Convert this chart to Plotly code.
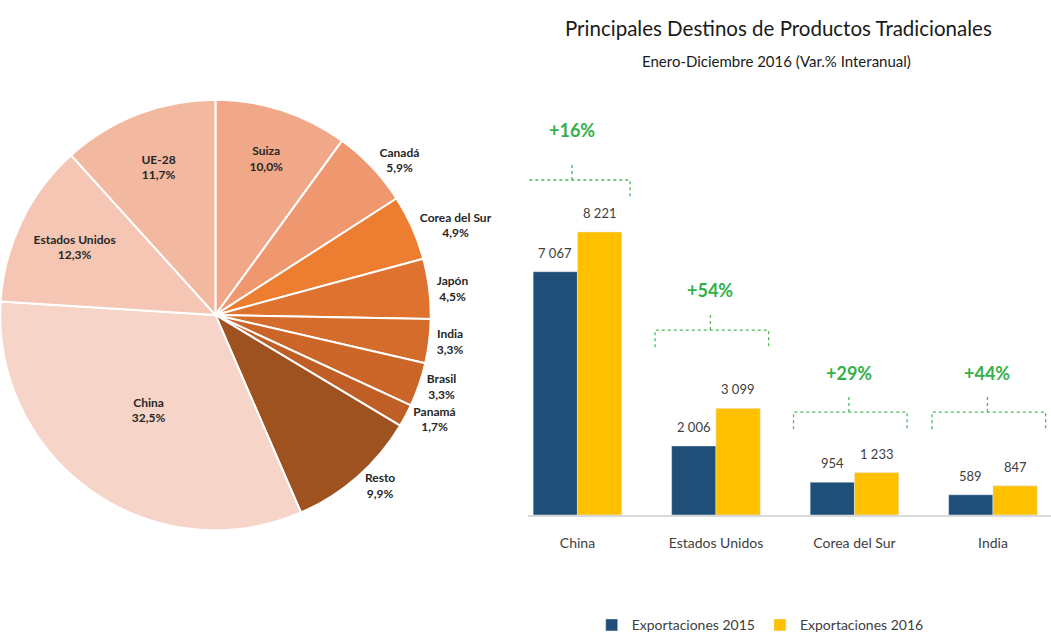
import plotly.graph_objects as go

# --- Pie: participación por destino (%) ---
destinos = ["Suiza", "Canadá", "Corea del Sur", "Japón", "India", "Brasil",
            "Panamá", "Resto", "China", "Estados Unidos", "UE-28"]
participacion = [10.0, 5.9, 4.9, 4.5, 3.3, 3.3, 1.7, 9.9, 32.5, 12.3, 11.7]

# --- Barras: exportaciones (millones US$) ---
paises = ["China", "Estados Unidos", "Corea del Sur", "India"]
exp_2015 = [7067, 2006, 954, 589]
exp_2016 = [8221, 3099, 1233, 847]
variacion = ["+16%", "+54%", "+29%", "+44%"]

FONT = "Lato"
TXT = "#262626"
GREEN = "#34B04A"
W, H = 1051, 635

colores_pie = ["#F0A888", "#EF9870", "#ED7D31", "#E07230", "#D46C2C", "#CB6628",
               "#BF5F25", "#9E5220", "#F7D4C8", "#F4C6B3", "#F2B8A0"]
pos_texto = ["inside", "outside", "outside", "outside", "outside", "outside",
             "outside", "outside", "inside", "inside", "inside"]

fig = go.Figure()

fig.add_trace(go.Pie(
    labels=destinos,
    values=participacion,
    sort=False,
    direction="clockwise",
    rotation=0,
    marker=dict(colors=colores_pie, line=dict(color="white", width=2)),
    textposition=pos_texto,
    texttemplate="<b>%{label}<br>%{value:.1f}%</b>",
    insidetextorientation="horizontal",
    textfont=dict(family=FONT, size=12, color=TXT),
    domain=dict(x=[0.0, 0.41], y=[0.165, 0.843]),
    showlegend=False,
    hoverinfo="label+value",
))

idx = list(range(len(paises)))
fig.add_trace(go.Bar(x=idx, y=exp_2015, name="Exportaciones 2015",
                     marker_color="#1F4E79"))
fig.add_trace(go.Bar(x=idx, y=exp_2016, name="Exportaciones 2016",
                     marker_color="#FFC000"))

# value labels above bars
for i in idx:
    for off, v in ((-0.16, exp_2015[i]), (0.16, exp_2016[i])):
        fig.add_annotation(x=i + off, y=v, xref="x", yref="y",
                           text=f"{v:,}".replace(",", " "), showarrow=False,
                           yanchor="bottom", yshift=9,
                           font=dict(family=FONT, size=13, color="#404040"))

# dotted brackets with growth rate
llave_y = [9730, 5370, 2990, 2990]
texto_y = [11180, 6540, 4120, 4120]
for i in idx:
    y0 = llave_y[i]
    xl, xr, xc = i - 0.44, i + 0.38, i - 0.04
    fig.add_shape(type="path", xref="x", yref="y",
                  path=f"M {xl},{y0-500} L {xl},{y0} L {xr},{y0} L {xr},{y0-500} "
                       f"M {xc},{y0} L {xc},{y0+480}",
                  line=dict(color="#4CB85A", width=1.3, dash="dot"))
    fig.add_annotation(x=xc, y=texto_y[i], xref="x", yref="y", text=f"<b>{variacion[i]}</b>",
                       showarrow=False, font=dict(family=FONT, size=18, color=GREEN))

fig.add_annotation(x=778 / W, y=1 - 28 / H, xref="paper", yref="paper",
                   xanchor="center", yanchor="middle",
                   text="Principales Destinos de Productos Tradicionales",
                   showarrow=False, font=dict(family=FONT, size=20.5, color="#1A1A1A"))
fig.add_annotation(x=776 / W, y=1 - 61 / H, xref="paper", yref="paper",
                   xanchor="center", yanchor="middle",
                   text="Enero-Diciembre 2016 (Var.% Interanual)",
                   showarrow=False, font=dict(family=FONT, size=15, color="#1A1A1A"))

fig.update_layout(
    width=W, height=H,
    margin=dict(l=0, r=0, t=0, b=0, autoexpand=False),
    paper_bgcolor="white", plot_bgcolor="white",
    separators=", ",
    barmode="group", bargap=0.36, bargroupgap=0,
    font=dict(family=FONT, color=TXT),
    xaxis=dict(domain=[528 / W, 1.0], range=[-0.357, 3.419],
               tickvals=idx, ticktext=paises, showgrid=False, zeroline=False,
               showline=True, linecolor="#D9D9D9", linewidth=1.5, ticks="",
               ticklabelstandoff=14,
               tickfont=dict(family=FONT, size=14, color="#404040")),
    yaxis=dict(domain=[120 / H, 532 / H], range=[0, 412 / 0.03443],
               visible=False),
    legend=dict(orientation="h", x=0.563, y=-0.01, yanchor="bottom",
                xanchor="left", font=dict(family=FONT, size=14, color="#404040"),
                itemwidth=30),
)

# page body has an 8px default margin; drop it so the figure sits at 0,0
fig.write_html("out.html", config={"displayModeBar": False},
               post_script="document.body.style.margin='0';")
